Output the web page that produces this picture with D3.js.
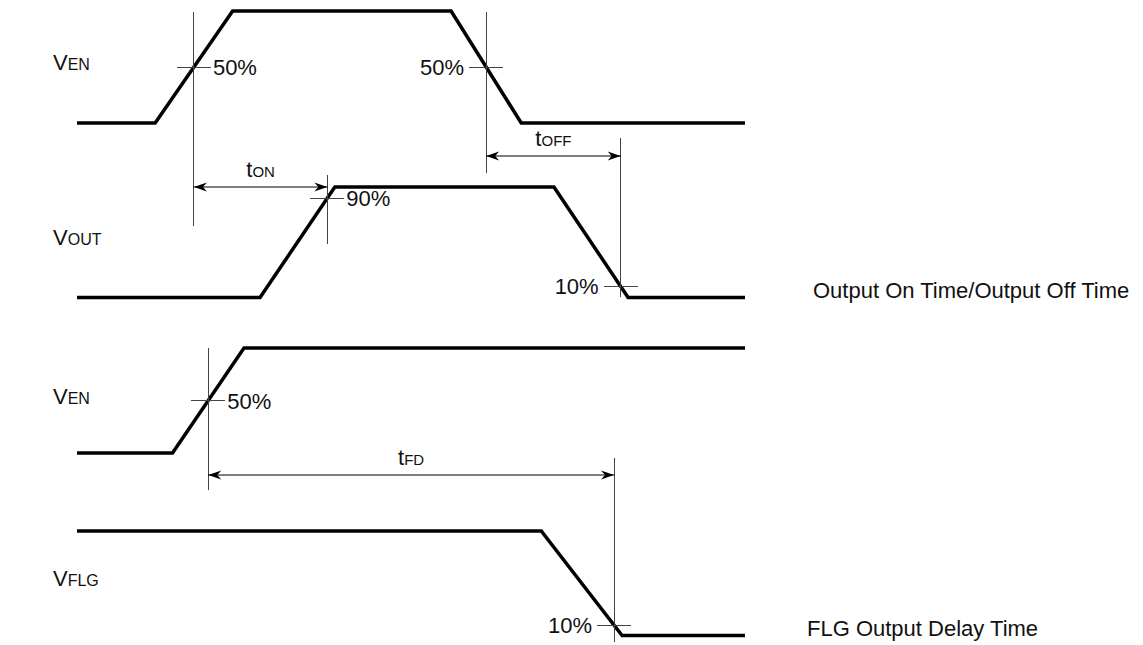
<!DOCTYPE html>
<html>
<head>
<meta charset="utf-8">
<title>Output On/Off Time and FLG Output Delay Time</title>
<style>
  body { margin: 0; background: #fff; }
  svg { display: block; background: #fff; font-family: "Liberation Sans", Arial, sans-serif; }
  .wave { fill: none; stroke: #000; stroke-width: 3.5px; stroke-linejoin: miter; }
  .guide { stroke: #444; stroke-width: 1px; shape-rendering: crispEdges; }
  .dim { stroke: #000; stroke-width: 1px; }
  .pct, .caption { font-size: 22px; fill: #111; }
</style>
</head>
<body>
<svg width="1143" height="645"></svg>
<script src="https://cdn.jsdelivr.net/npm/d3@7"></script>
<script>
// ---- data (time in arbitrary units 0..100, level 0 = low, 1 = high) ----
var signalNames = [["V", "EN"], ["V", "OUT"], ["V", "EN"], ["V", "FLG"]];
var waveTimes = [
  [0, 11.7, 23.3, 56, 66.5, 100],
  [0, 27.4, 38.6, 71.4, 82.5, 100],
  [0, 14.3, 25, 100],
  [0, 69.5, 81.6, 100]
];
var waveLevels = [
  [0, 0, 1, 1, 0, 0],
  [0, 0, 1, 1, 0, 0],
  [0, 0, 1, 1],
  [1, 1, 0, 0]
];
// threshold markers: signal row, edge (segment index), level, label, label side
var markerRow   = [0, 0, 1, 1, 2, 3];
var markerEdge  = [1, 3, 1, 3, 1, 1];
var markerLevel = [0.5, 0.5, 0.9, 0.1, 0.5, 0.1];
var markerText  = ["50%", "50%", "90%", "10%", "50%", "10%"];
var markerSide  = ["right", "left", "right", "left", "right", "left"];
// timing intervals between markers
var spanFrom  = [0, 1, 4];
var spanTo    = [2, 3, 5];
var spanLabel = [["t", "ON"], ["t", "OFF"], ["t", "FD"]];
var captions  = ["Output On Time/Output Off Time", "FLG Output Delay Time"];
var captionRow = [1, 3];

// ---- layout ----
var svg = d3.select("svg");
var rowHigh = [11, 187, 348, 531];
var rowLow  = [123, 297.5, 453, 635.5];
// vertical extent of each marker guide [top, bottom]
var guideExtent = [[12, 226], [12, 173], [175, 244], [138, 297], [348, 490], [458, 642]];
var spanY = [187, 156, 475];
var tickHalf = 17;

var x = d3.scaleLinear().domain([0, 100]).range([77, 745]);
var yRow = rowHigh.map(function(h, i) {
  return d3.scaleLinear().domain([0, 1]).range([rowLow[i], h]);
});

// waveforms
var line = d3.line();
waveTimes.forEach(function(ts, i) {
  svg.append("path")
    .attr("class", "wave")
    .attr("d", line(ts.map(function(t, k) { return [x(ts[k]), yRow[i](waveLevels[i][k])]; })));
});

// signal names
signalNames.forEach(function(n, i) {
  var t = svg.append("text")
    .attr("x", 53)
    .attr("y", (rowHigh[i] + rowLow[i]) / 2 + 3)
    .attr("fill", "#111");
  t.append("tspan").attr("font-size", 22).text(n[0]);
  t.append("tspan").attr("font-size", 16).text(n[1]);
});

// marker crossing positions
var crossX = markerRow.map(function(r, i) {
  var e = markerEdge[i], ts = waveTimes[r], ls = waveLevels[r];
  var f = (markerLevel[i] - ls[e]) / (ls[e + 1] - ls[e]);
  return x(ts[e] + f * (ts[e + 1] - ts[e]));
});
var crossY = markerRow.map(function(r, i) { return yRow[r](markerLevel[i]); });

markerRow.forEach(function(r, i) {
  var cx = crossX[i], cy = crossY[i];
  svg.append("line").attr("class", "guide")
    .attr("x1", cx).attr("x2", cx)
    .attr("y1", guideExtent[i][0]).attr("y2", guideExtent[i][1]);
  svg.append("line").attr("class", "guide")
    .attr("x1", cx - tickHalf).attr("x2", cx + tickHalf)
    .attr("y1", cy).attr("y2", cy);
  var right = markerSide[i] === "right";
  svg.append("text").attr("class", "pct")
    .attr("x", right ? cx + tickHalf + 2 : cx - tickHalf - 5)
    .attr("y", cy + 8)
    .attr("text-anchor", right ? "start" : "end")
    .text(markerText[i]);
});

// dimension arrows
function arrowHead(px, py, dir) {
  var l = 13, w = 4.5;
  return "M" + px + "," + py + "L" + (px - dir * l) + "," + (py - w) +
         "L" + (px - dir * (l - 4)) + "," + py + "L" + (px - dir * l) + "," + (py + w) + "Z";
}
spanFrom.forEach(function(a, i) {
  var x1 = crossX[a], x2 = crossX[spanTo[i]], yy = spanY[i];
  svg.append("line").attr("class", "dim")
    .attr("x1", x1).attr("x2", x2).attr("y1", yy).attr("y2", yy);
  svg.append("path").attr("d", arrowHead(x1, yy, -1)).attr("fill", "#000");
  svg.append("path").attr("d", arrowHead(x2, yy, 1)).attr("fill", "#000");
  var t = svg.append("text")
    .attr("x", (x1 + x2) / 2)
    .attr("y", yy - 10)
    .attr("text-anchor", "middle")
    .attr("fill", "#111");
  t.append("tspan").attr("font-size", 22).text(spanLabel[i][0]);
  t.append("tspan").attr("font-size", 15).text(spanLabel[i][1]);
});

// captions
captions.forEach(function(c, i) {
  svg.append("text").attr("class", "caption")
    .attr("x", i === 0 ? 813 : 807)
    .attr("y", rowLow[captionRow[i]])
    .text(c);
});
</script>
</body>
</html>
